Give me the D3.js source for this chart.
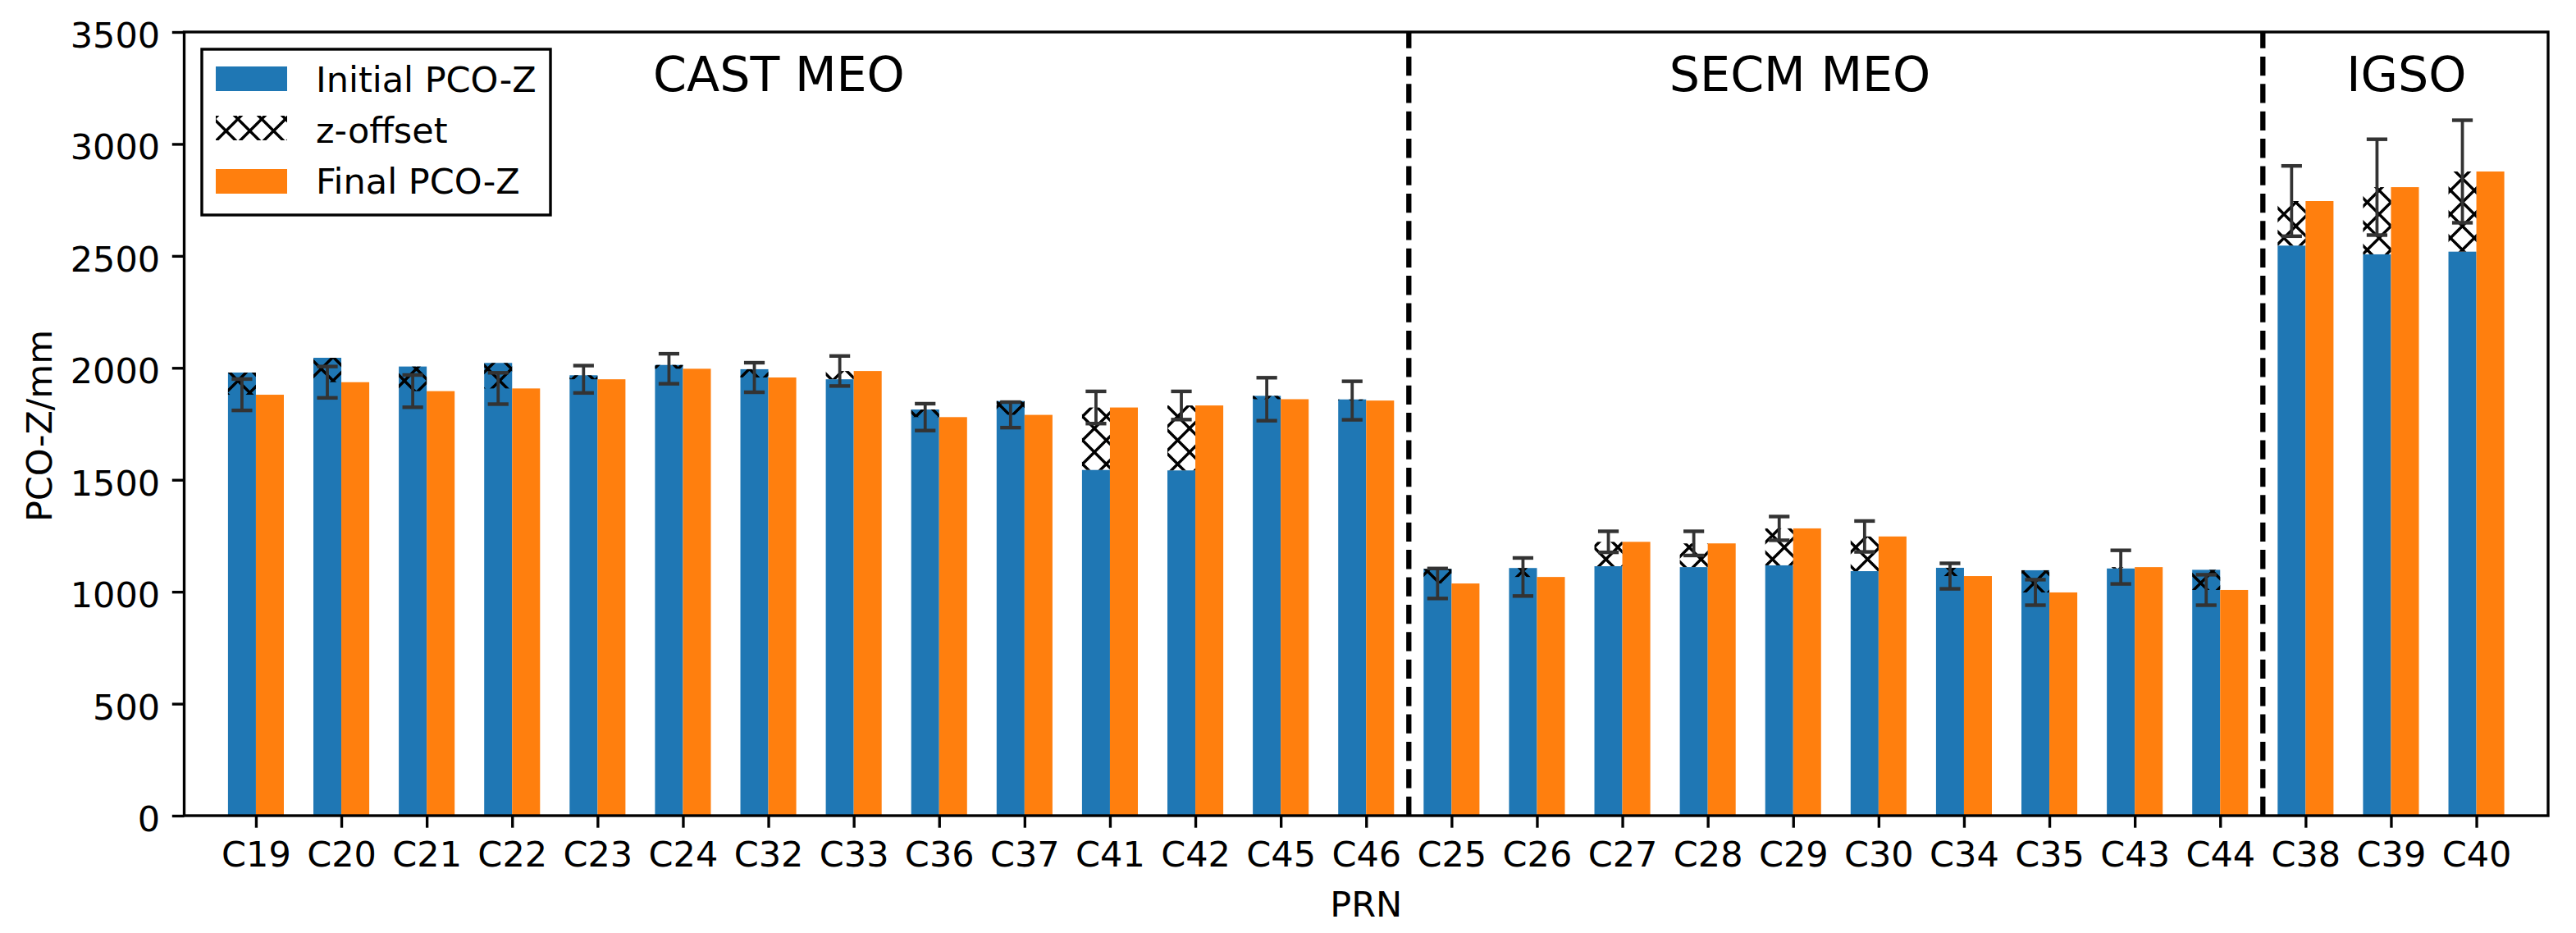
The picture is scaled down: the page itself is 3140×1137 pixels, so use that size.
<!DOCTYPE html>
<html>
<head>
<meta charset="utf-8">
<script src="https://cdn.jsdelivr.net/npm/d3@7"></script>
<style>
  html, body { margin: 0; padding: 0; background: #fff; }
  svg { display: block; font-family: "DejaVu Sans", sans-serif; }
</style>
</head>
<body>
<svg id="chart" width="3140" height="1137"></svg>
<script>
// ---- data ----
const prn = ["C19","C20","C21","C22","C23","C24","C32","C33","C36","C37","C41","C42","C45","C46",
             "C25","C26","C27","C28","C29","C30","C34","C35","C43","C44",
             "C38","C39","C40"];
const initialPCO = [1979,2045,2006,2022,1967,2013,1994,1949,1814,1852,1544,1542,1875,1859,
                    1102,1106,1114,1110,1118,1092,1107,1096,1104,1098,
                    2546,2507,2519];
const zOffset = [-99,-109,-110,-114,-18,-17,-37,37,-34,-62,279,290,-15,-5,
                 -65,-40,109,106,165,155,-37,-99,6,-90,
                 199,300,358];
const finalPCO = [1880,1936,1896,1908,1949,1996,1957,1986,1780,1790,1823,1832,1860,1854,
                  1037,1066,1223,1216,1283,1247,1070,997,1110,1008,
                  2745,2807,2877];
const offsetStd = [70,70,72,70,61,67,66,67,60,57,72,63,96,86,
                   67,85,47,54,53,69,57,57,75,68,
                   157,214,229];
const yTicks = [0,500,1000,1500,2000,2500,3000,3500];
const groups = [
  {label: "CAST MEO", at: 4.65},
  {label: "SECM MEO", at: 16.55},
  {label: "IGSO",     at: 24.48}
];
const separators = [13.5, 23.5];
const legendItems = ["Initial PCO-Z", "z-offset", "Final PCO-Z"];

// ---- layout ----
const svg = d3.select("#chart");
const L = 224.5, R = 3106, T = 39, B = 994;
const x = d3.scaleLinear().domain([-0.84, 26.84]).range([L, R]);
const y = d3.scaleLinear().domain([0, 3500]).range([B, T]);
const w = 0.327;           // bar width in category units
const blue = "#1f77b4", orange = "#ff7f0e";
const FS = 43;

// hatch pattern
const defs = svg.append("defs");
const P = 29;
const pat = defs.append("pattern").attr("id", "hatch")
  .attr("patternUnits", "userSpaceOnUse").attr("width", P).attr("height", P);
pat.append("path")
  .attr("d", `M${-P/2},${P/2} L${P/2},${-P/2} M0,${P} L${P},0 M${P/2},${P*1.5} L${P*1.5},${P/2}
              M${-P/2},${P/2} L${P/2},${P*1.5} M0,0 L${P},${P} M${P/2},${-P/2} L${P*1.5},${P/2}`)
  .attr("stroke", "#000").attr("stroke-width", 3.4).attr("fill", "none");

const idx = d3.range(prn.length);

// blue bars
svg.append("g").selectAll("rect").data(idx).join("rect")
  .attr("x", i => x(i - w)).attr("width", i => x(w) - x(0))
  .attr("y", i => y(initialPCO[i])).attr("height", i => y(0) - y(initialPCO[i]))
  .attr("fill", blue);

// orange bars
svg.append("g").selectAll("rect").data(idx).join("rect")
  .attr("x", i => x(i)).attr("width", i => x(w) - x(0))
  .attr("y", i => y(finalPCO[i])).attr("height", i => y(0) - y(finalPCO[i]))
  .attr("fill", orange);

// hatched z-offset bars
svg.append("g").selectAll("rect").data(idx).join("rect")
  .attr("x", i => x(i - w)).attr("width", i => x(w) - x(0))
  .attr("y", i => y(Math.max(initialPCO[i], initialPCO[i] + zOffset[i])))
  .attr("height", i => Math.abs(y(initialPCO[i]) - y(initialPCO[i] + zOffset[i])))
  .attr("fill", "url(#hatch)");

// error bars
const eg = svg.append("g").attr("stroke", "#333");
idx.forEach(i => {
  const cx = x(i - w / 2);
  const c = initialPCO[i] + zOffset[i];
  const y1 = y(c + offsetStd[i]), y2 = y(c - offsetStd[i]);
  eg.append("line").attr("x1", cx).attr("x2", cx).attr("y1", y1).attr("y2", y2).attr("stroke-width", 3.8);
  [y1, y2].forEach(yy => eg.append("line").attr("x1", cx - 12.6).attr("x2", cx + 12.6)
    .attr("y1", yy).attr("y2", yy).attr("stroke-width", 4.4));
});

// dashed separators (drawn from bottom up)
svg.append("g").selectAll("line").data(separators).join("line")
  .attr("x1", d => x(d)).attr("x2", d => x(d))
  .attr("y1", y(0)).attr("y2", y(3500))
  .attr("stroke", "#000").attr("stroke-width", 6.3)
  .attr("stroke-dasharray", "23.3,10.1");

// group labels
svg.append("g").selectAll("text").data(groups).join("text")
  .attr("x", d => x(d.at)).attr("y", 111)
  .attr("text-anchor", "start")
  .attr("font-size", 58.7).attr("fill", "#000")
  .text(d => d.label);

// axes
const yAxis = svg.append("g").attr("transform", `translate(${L},0)`)
  .call(d3.axisLeft(y).tickValues(yTicks).tickFormat(d3.format("d")).tickSize(14.7).tickPadding(14.7));
yAxis.select(".domain").remove();
yAxis.selectAll("line").attr("stroke", "#000").attr("stroke-width", 3.36);
yAxis.selectAll("text").attr("font-size", FS).attr("font-family", "DejaVu Sans").attr("fill", "#000").attr("dy", "0.43em");

const xAxis = svg.append("g").attr("transform", `translate(0,${B})`)
  .call(d3.axisBottom(x).tickValues(idx).tickFormat(i => prn[i]).tickSize(14.7).tickPadding(14.7));
xAxis.select(".domain").remove();
xAxis.selectAll("line").attr("stroke", "#000").attr("stroke-width", 3.36);
xAxis.selectAll("text").attr("font-size", FS).attr("font-family", "DejaVu Sans").attr("fill", "#000").attr("dy", "0.76em");

// spines
svg.append("rect").attr("x", L).attr("y", T).attr("width", R - L).attr("height", B - T)
  .attr("fill", "none").attr("stroke", "#000").attr("stroke-width", 3.36);

// axis labels
svg.append("text").attr("x", (L + R) / 2).attr("y", 1117).attr("text-anchor", "middle")
  .attr("font-size", FS).text("PRN");
svg.append("text").attr("transform", "translate(63,519) rotate(-90)").attr("text-anchor", "middle")
  .attr("font-size", FS).text("PCO-Z/mm");

// legend
const lg = svg.append("g");
lg.append("rect").attr("x", 246).attr("y", 60).attr("width", 425).attr("height", 202)
  .attr("fill", "#fff").attr("stroke", "#000").attr("stroke-width", 3.4);
const lgFills = [blue, "url(#hatch)", orange];
const lgPatchY = [81, 141, 206];
const lgTextY = [112, 174, 236];
legendItems.forEach((t, k) => {
  lg.append("rect").attr("x", 263).attr("y", lgPatchY[k]).attr("width", 87).attr("height", 30)
    .attr("fill", lgFills[k]);
  lg.append("text").attr("x", 385).attr("y", lgTextY[k]).attr("font-size", FS).text(t);
});
</script>
</body>
</html>
